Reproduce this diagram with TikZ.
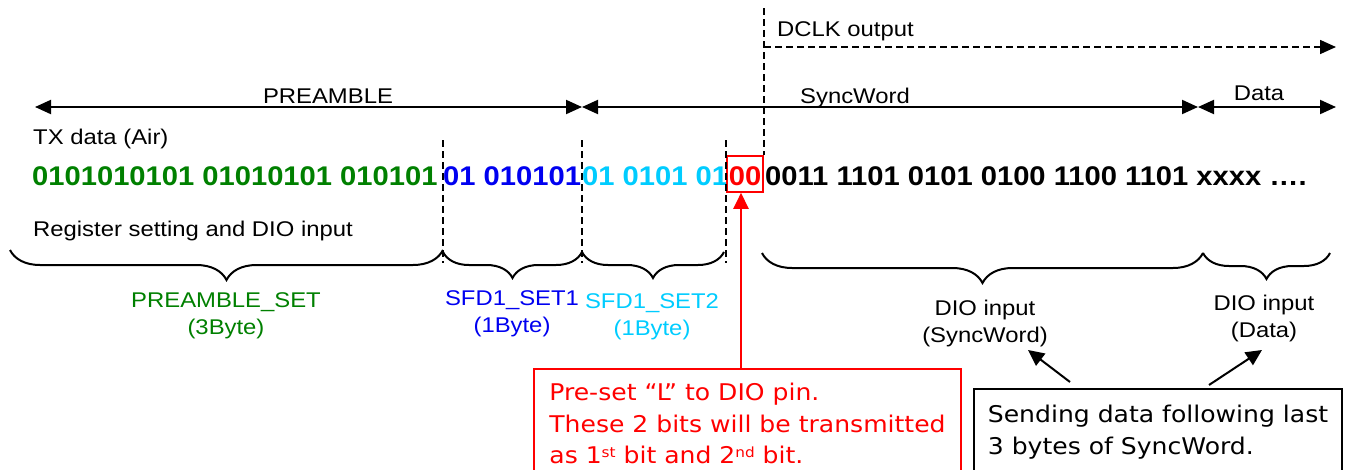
\documentclass[tikz,border=0pt]{standalone}
\usepackage{fontspec}
\setmainfont{Liberation Sans}[FakeStretch=1.12]
\newfontfamily\bitfont{Liberation Sans}[FakeStretch=1.08]
\newfontfamily\boxfont{DejaVu Sans}[FakeStretch=1.09]
\usetikzlibrary{arrows.meta,decorations.pathreplacing,calc}
\definecolor{pgreen}{RGB}{0,128,0}
\definecolor{pblue}{RGB}{0,0,240}
\definecolor{pcyan}{RGB}{0,204,255}
\definecolor{pred}{RGB}{255,0,0}
\begin{document}
\begin{tikzpicture}[x=1pt,y=-1pt,
  lab/.style={font=\fontsize{21.3}{27}\selectfont, inner sep=0pt},
  bits/.style={font=\bitfont\fontsize{27}{30}\selectfont\bfseries, inner sep=0pt, anchor=base west},
  dline/.style={dash pattern=on 7pt off 4pt, line width=1.6pt},
  tip/.style={Triangle[length=16pt,width=14pt]},
  dimarr/.style={line width=2pt, {Triangle[length=16pt,width=14pt]}-{Triangle[length=16pt,width=14pt]}},
  brc/.style={decorate, decoration={brace, mirror, amplitude=#1}, line width=2pt},
  note/.style={font=\boxfont\fontsize{23}{31.5}\selectfont, draw, line width=2pt, align=left, anchor=north west, inner xsep=0pt}
]
\useasboundingbox (0,0) rectangle (1346,469);

% coordinates of the section boundaries
\coordinate (pa) at (35,107);
\coordinate (pb) at (582,107);
\coordinate (pc) at (1198,107);
\coordinate (pd) at (1336,107);

% top labels
\node[lab, anchor=base west] (dclk) at (777,36) {DCLK output};
\node[lab, anchor=base] (pre) at (328,103) {PREAMBLE};
\node[lab, anchor=base west] (sync) at (800,103) {SyncWord};
\node[lab, anchor=base] (data) at (1259,100) {Data};
\node[lab, anchor=base west] (tx) at (33,144) {TX data (Air)};
\node[lab, anchor=base west] (reg) at (33,236) {Register setting and DIO input};

% dimension arrows
\draw[dimarr] (pa) -- (pb);
\draw[dimarr] (pb) -- (pc);
\draw[dimarr] (pc) -- (pd);

% bit row
\node[bits, text=pgreen] (g) at (32,185) {0101010101 01010101 010101};
\node[bits, text=pblue] (b) at (443,185) {01 010101};
\node[bits, text=pcyan] (c) at (582,185) {01 0101 01};
\node[bits, text=pred, draw=pred, line width=1.6pt, inner xsep=2pt, text height=29pt, text depth=7pt] (zz) at (726,185) {00};
\node[bits, text=black] (k) at (765,185) {0011 1101 0101 0100 1100 1101 xxxx ….};

% DCLK
\coordinate (dtop) at (761,8);
\coordinate (dend) at (1336,47);
\draw[dline] (zz.north east |- dtop) -- (zz.north east);
\draw[dline, -{Triangle[length=16pt,width=14pt]}] (zz.north east |- dend) -- (dend);

% vertical dashed separators
\draw[dline] (443,140) -- (443,263);
\draw[dline] (582,140) -- (582,263);
\draw[dline] (zz.north west |- 0,140) -- (zz.north west |- 0,263);

% braces
\draw[brc=30pt] (10,250) -- (443,250);
\draw[brc=26pt] (443,252) -- (582,252);
\draw[brc=26pt] (582,252) -- (724,252);
\draw[brc=30pt] (762,253) -- (1203,253);
\draw[brc=26pt] (1203,253) -- (1330,253);

% brace labels
\node[lab, align=center, anchor=north, text=pgreen] (pset) at (226,292.5) {PREAMBLE\_SET\\(3Byte)};
\node[lab, align=center, anchor=north, text=pblue] (s1) at (512,290) {SFD1\_SET1\\(1Byte)};
\node[lab, align=center, anchor=north, text=pcyan] (s2) at (652,293) {SFD1\_SET2\\(1Byte)};
\node[lab, align=center, anchor=north] (dio1) at (985,300) {DIO input\\(SyncWord)};
\node[lab, align=center, anchor=north] (dio2) at (1264,295) {DIO input\\(Data)};

% notes
\node[note, draw=pred, text=pred, minimum width=427pt, inner ysep=14.5pt, text depth=80pt] (n1) at (533,368)
  {Pre-set “L” to DIO pin.\\These 2 bits will be transmitted\\as 1\raisebox{6pt}{\fontsize{14}{14}\selectfont st} bit and 2\raisebox{6pt}{\fontsize{14}{14}\selectfont nd} bit.};
\node[note, minimum width=368pt, inner ysep=16.5pt, text depth=60pt] (n2) at (973,388)
  {Sending data following last\\3 bytes of SyncWord.};

% connectors
\draw[pred, line width=2.4pt, -{Triangle[length=16pt,width=15pt]}] (n1.north -| 741,0) -- (zz.south -| 741,0);
\coordinate (a1s) at (1070,382);
\coordinate (a1e) at (1028,350);
\coordinate (a2s) at (1209,385);
\coordinate (a2e) at (1262,350);
\draw[line width=2pt, -{Triangle[length=16pt,width=15pt]}] (a1s) -- (a1e);
\draw[line width=2pt, -{Triangle[length=16pt,width=15pt]}] (a2s) -- (a2e);
\end{tikzpicture}
\end{document}
